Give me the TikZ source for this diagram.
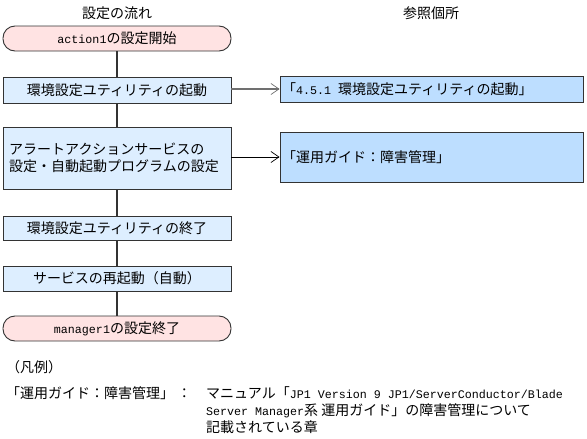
\documentclass[tikz,border=0pt]{standalone}
\usepackage{fontspec}
\setmainfont{Noto Sans CJK JP}
\newfontfamily\latmono{Liberation Mono}
\newcommand{\lm}[1]{{\latmono\fontsize{11.67}{17}\selectfont #1}}
\usetikzlibrary{arrows.meta}
\definecolor{termfill}{HTML}{FFE3E3}
\definecolor{stepfill}{HTML}{DDEEFF}
\definecolor{reffill}{HTML}{BDDEFF}
\definecolor{edge}{HTML}{333333}
\definecolor{grayarrow}{HTML}{707070}
\begin{document}
\begin{tikzpicture}[x=1pt,y=-1pt,
  every node/.style={font=\fontsize{14}{17}\selectfont, inner sep=0pt},
  term/.style={draw=edge, fill=termfill, line width=0.9pt, rounded corners=12pt, minimum width=228pt, minimum height=25pt},
  stepbox/.style={draw=edge, fill=stepfill, line width=0.9pt, minimum width=228pt},
  refbox/.style={draw=edge, fill=reffill, line width=0.9pt, minimum width=303pt},
  link/.style={draw=edge, line width=1.1pt},
  refarrow/.style={line width=0.9pt, -{Straight Barb[length=8pt,width=11pt,line width=0.7pt]}},
  txt/.style={anchor=west}
]
\useasboundingbox (0,0) rectangle (587,439);
\node (t1) at (117,13) {設定の流れ};
\node (t2) at (431,13) {参照個所};

\node[term] (start) at (117,38.5) {\lm{action1}の設定開始};
\node[stepbox, minimum height=26pt] (s1) at (117,90) {環境設定ユティリティの起動};
\node[stepbox, minimum height=62pt] (s2) at (117,158) {};
\node[txt, align=left] (s2t) at (9,158) {アラートアクションサービスの\\設定・自動起動プログラムの設定};
\node[stepbox, minimum height=24pt] (s3) at (117,228) {環境設定ユティリティの終了};
\node[stepbox, minimum height=25pt] (s4) at (117,278.5) {サービスの再起動（自動）};
\node[term] (end) at (117,328.5) {\lm{manager1}の設定終了};

\node[refbox, minimum height=26pt] (r1) at (431.5,89) {};
\node[txt] (r1t) at (282,89) {「\lm{4.5.1 }環境設定ユティリティの起動」};
\node[refbox, minimum height=50pt] (r2) at (431.5,157) {};
\node[txt] (r2t) at (282,157) {「運用ガイド：障害管理」};

\draw[link] (start) -- (s1);
\draw[link] (s1) -- (s2);
\draw[link] (s2) -- (s3);
\draw[link] (s3) -- (s4);
\draw[link] (s4) -- (end);
\draw[refarrow, draw=grayarrow, line width=1.6pt, -{Straight Barb[length=8pt,width=11pt,line width=0.7pt]}] (s1.east |- r1.west) -- (r1.west);
\draw[refarrow, draw=black] (s2.east |- r2.west) -- (r2.west);

\node[txt] (leg) at (6,367) {（凡例）};
\node[txt] (legk) at (6,393) {「運用ガイド：障害管理」 ：};
\node[anchor=west, align=left] (legv) at (206,410) {マニュアル「\lm{JP1 Version 9 JP1/ServerConductor/Blade}\\\lm{Server Manager}系 運用ガイド」の障害管理について\\記載されている章};
\end{tikzpicture}
\end{document}
